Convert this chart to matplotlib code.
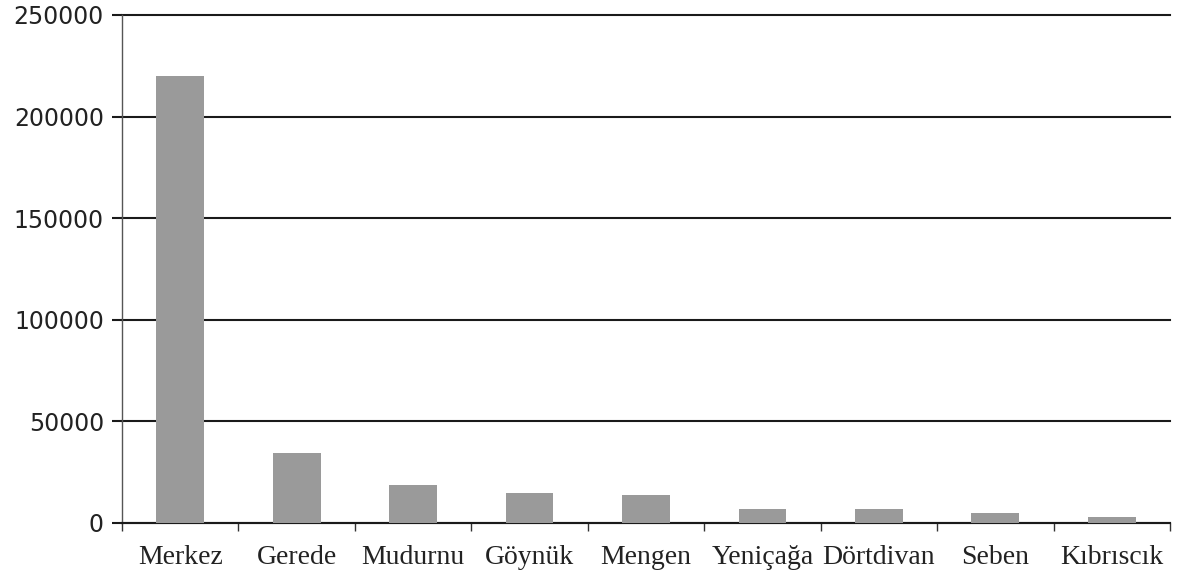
import matplotlib
matplotlib.use("Agg")
import matplotlib.pyplot as plt
import numpy as np

categories = ["Merkez", "Gerede", "Mudurnu", "Göynük", "Mengen",
              "Yeniçağa", "Dörtdivan", "Seben", "Kıbrıscık"]
values = [220000, 34500, 18500, 14600, 13800, 6900, 6900, 4700, 3000]
yticks = [0, 50000, 100000, 150000, 200000, 250000]

fig = plt.figure(figsize=(11.77, 5.74), dpi=100)
ax = fig.add_axes([0.1037, 0.0889, 0.8903, 0.8851])

x = np.arange(len(categories))
ax.bar(x, values, width=0.41, color="#9a9a9a", zorder=3)

ax.set_xlim(-0.5, len(categories) - 0.5)
ax.set_ylim(0, 250000)
ax.set_yticks(yticks)
ax.set_yticklabels([str(v) for v in yticks], fontsize=17, family="DejaVu Sans", color="#222222")
ax.yaxis.grid(True, color="#1a1a1a", linewidth=1.5, zorder=1, clip_on=False)

ax.set_xticks(x)
ax.set_xticklabels(categories, fontsize=20, family="Liberation Serif", color="#222222")
ax.tick_params(axis="x", length=0, pad=16)
ax.set_xticks(np.arange(len(categories) + 1) - 0.5, minor=True)
ax.tick_params(axis="x", which="minor", length=6, width=1, color="#333333")
ax.tick_params(axis="y", length=7, width=1.5, color="#1a1a1a", pad=6)

for s in ["top", "right"]:
    ax.spines[s].set_visible(False)
ax.spines["left"].set_color("#555555")
ax.spines["left"].set_linewidth(1)
ax.spines["bottom"].set_color("#1a1a1a")
ax.spines["bottom"].set_linewidth(1.5)

fig.savefig("out.png", dpi=100)
